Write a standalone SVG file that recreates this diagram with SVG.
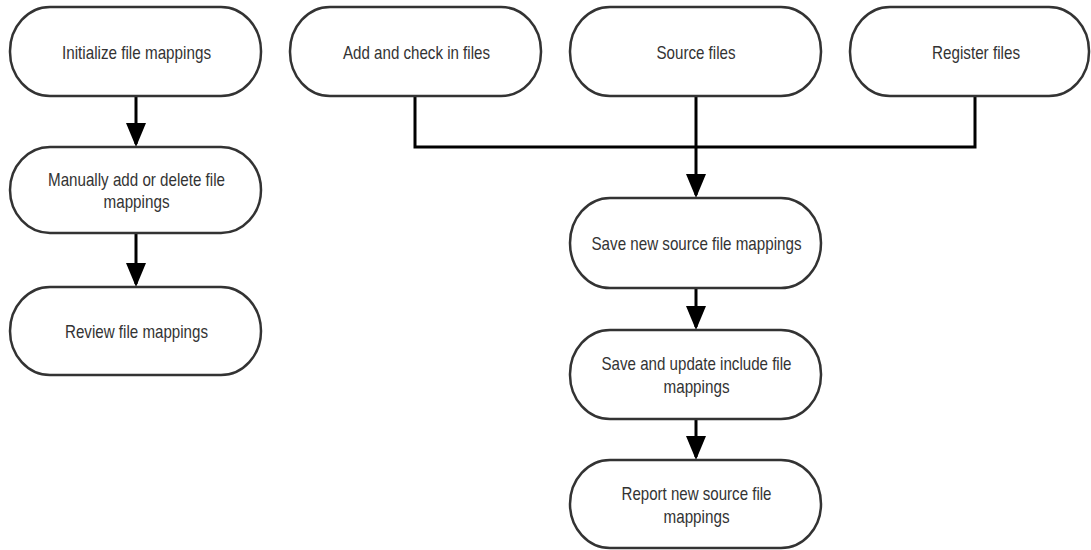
<svg xmlns="http://www.w3.org/2000/svg" width="1091" height="550" viewBox="0 0 1091 550">
  <style>
    .node rect { fill: #ffffff; stroke: #333333; stroke-width: 2.5; }
    .node text { font-family: "Liberation Sans Narrow", "Arial Narrow", "Liberation Sans", Arial, sans-serif; font-size: 19px; fill: #333333; text-anchor: middle; }
    .conn { fill: none; stroke: #000000; stroke-width: 3; }
  </style>
  <defs>
    <marker id="arrow" markerUnits="userSpaceOnUse" markerWidth="24" markerHeight="20" refX="21" refY="10" orient="auto">
      <path d="M0,0 L24,10 L0,20 z" fill="#000000"/>
    </marker>
  </defs>
  <rect x="0" y="0" width="1091" height="550" fill="#ffffff"/>

  <g id="connectors">
    <path class="conn" d="M136,96 L136,144" marker-end="url(#arrow)"/>
    <path class="conn" d="M136,233 L136,284" marker-end="url(#arrow)"/>
    <path class="conn" d="M415,96 L415,147 L975,147 L975,96"/>
    <path class="conn" d="M696,96 L696,195" marker-end="url(#arrow)"/>
    <path class="conn" d="M696,288 L696,327" marker-end="url(#arrow)"/>
    <path class="conn" d="M696,419 L696,457" marker-end="url(#arrow)"/>
  </g>

  <g id="n-init" class="node">
    <rect x="10" y="7" width="251" height="89" rx="40" ry="44"/>
    <text x="136.5" y="59" textLength="149" lengthAdjust="spacingAndGlyphs">Initialize file mappings</text>
  </g>
  <g id="n-manual" class="node">
    <rect x="10" y="147" width="251" height="86" rx="40" ry="43"/>
    <text x="136.5" y="185.5" textLength="177" lengthAdjust="spacingAndGlyphs">Manually add or delete file</text>
    <text x="136.5" y="208" textLength="66" lengthAdjust="spacingAndGlyphs">mappings</text>
  </g>
  <g id="n-review" class="node">
    <rect x="10" y="287" width="251" height="88" rx="40" ry="44"/>
    <text x="136.5" y="338" textLength="143" lengthAdjust="spacingAndGlyphs">Review file mappings</text>
  </g>
  <g id="n-add" class="node">
    <rect x="290" y="7" width="251" height="89" rx="40" ry="44"/>
    <text x="416.5" y="59" textLength="147" lengthAdjust="spacingAndGlyphs">Add and check in files</text>
  </g>
  <g id="n-source" class="node">
    <rect x="570" y="7" width="251" height="89" rx="40" ry="44"/>
    <text x="696" y="59" textLength="79" lengthAdjust="spacingAndGlyphs">Source files</text>
  </g>
  <g id="n-register" class="node">
    <rect x="850" y="7" width="239" height="89" rx="40" ry="44"/>
    <text x="976" y="59" textLength="88" lengthAdjust="spacingAndGlyphs">Register files</text>
  </g>
  <g id="n-savenew" class="node">
    <rect x="570" y="198" width="251" height="90" rx="40" ry="45"/>
    <text x="696.5" y="249.5" textLength="210" lengthAdjust="spacingAndGlyphs">Save new source file mappings</text>
  </g>
  <g id="n-saveupdate" class="node">
    <rect x="570" y="330" width="251" height="89" rx="40" ry="44"/>
    <text x="696.5" y="370" textLength="190" lengthAdjust="spacingAndGlyphs">Save and update include file</text>
    <text x="696.5" y="393" textLength="66" lengthAdjust="spacingAndGlyphs">mappings</text>
  </g>
  <g id="n-report" class="node">
    <rect x="570" y="460" width="251" height="88" rx="40" ry="44"/>
    <text x="696.5" y="500" textLength="150" lengthAdjust="spacingAndGlyphs">Report new source file</text>
    <text x="696.5" y="523" textLength="66" lengthAdjust="spacingAndGlyphs">mappings</text>
  </g>
</svg>
